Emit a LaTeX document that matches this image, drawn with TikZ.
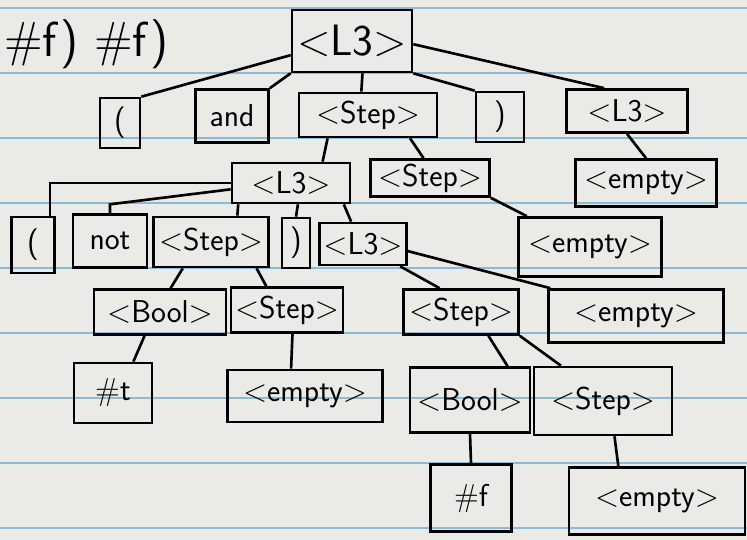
\documentclass[tikz,border=0pt]{standalone}
\usepackage{fontspec}
\usepackage{tikz}
\usetikzlibrary{calc}
\definecolor{paper}{RGB}{234, 234, 230}
\definecolor{ruling}{RGB}{140, 185, 212}

\begin{document}
\begin{tikzpicture}[x=0.02cm, y=-0.02cm, font=\sffamily\fontsize{18}{21}\selectfont,
    box/.style={draw, line width=1.5pt, inner sep=1pt},
    wh/.style 2 args={minimum width=#1*0.02cm, minimum height=#2*0.02cm},
    edge/.style={line width=1.5pt}]
  % Paper with its ruled lines
  \fill[paper] (0,0) rectangle (747,540);
  \useasboundingbox (0,0) rectangle (747,540);
  \foreach \k in {0,...,8} {
    \draw[ruling, line width=1pt] (0, {8+65*\k}) -- (747, {8+65*\k});
  }

  % Leftover of the expression
  \node[anchor=west, inner sep=1pt, font=\sffamily\fontsize{28}{32}\selectfont] (frag) at (2,44) {\#f) \#f)};

  % Level 0 and 1
  \node[box, wh={120}{62}, font=\sffamily\fontsize{25}{29}\selectfont] (r) at (352,41) {<L3>};
  \node[box, wh={40}{50}] (lp1) at (120,123) {(};
  \node[box, wh={73}{53}] (and) at (232,116) {and};
  \node[box, wh={138}{44}] (s1) at (368,115) {<Step>};
  \node[box, wh={48}{50}] (rp1) at (500,117) {)};
  \node[box, wh={121}{43}] (l3b) at (627,111) {<L3>};

  % Level 2
  \node[box, wh={118}{40}] (l3c) at (291,183) {<L3>};
  \node[box, wh={119}{37}] (s2) at (430,178) {<Step>};
  \node[box, wh={141}{47}] (e1) at (646,183) {<empty>};

  % Level 3
  \node[box, wh={43}{56}] (lp2) at (33,245) {(};
  \node[box, wh={74}{53}] (not) at (110,241) {not};
  \node[box, wh={115}{50}] (s3) at (211,242) {<Step>};
  \node[box, wh={28}{50}] (rp2) at (296,243) {)};
  \node[box, wh={87}{42}] (l3d) at (363,244) {<L3>};
  \node[box, wh={143}{59}] (e2) at (590,247) {<empty>};

  % Level 4
  \node[box, wh={132}{45}] (b1) at (160,312) {<Bool>};
  \node[box, wh={112}{45}] (s4) at (287,310) {<Step>};
  \node[box, wh={115}{45}] (s5) at (461,312) {<Step>};
  \node[box, wh={175}{53}] (e3) at (636,316) {<empty>};

  % Level 5 and 6
  \node[box, wh={78}{60}] (t) at (113,393) {\#t};
  \node[box, wh={155}{52}] (e4) at (305,396) {<empty>};
  \node[box, wh={120}{65}] (b2) at (470,400) {<Bool>};
  \node[box, wh={138}{68}] (s6) at (603,401) {<Step>};
  \node[box, wh={81}{67}] (f) at (471,498) {\#f};
  \node[box, wh={176}{67}] (e5) at (657,501) {<empty>};

  % Connectors
  \foreach \a/\b in {r.193/lp1.north east, r.south west/and.north east,
      r.-72/s1.106, r.south east/rp1.north west, r.-3/l3b.135,
      s1.210/l3c.34, s1.-29/s2.108, l3b.south/e1.north,
      l3c.202/s3.45, l3c.-72/rp2.north, l3c.-22/l3d.118,
      s2.south east/e2.154, s3.223/b1.66, s3.-30/s4.131,
      l3d.-31/s5.132, l3d.-9/e3.162, b1.237/t.57, s4.-77/e4.117,
      s5.-41/b2.42, s5.south east/s6.140, b2.south/f.north, s6.-72/e5.138} {
    \draw[edge] (\a) -- (\b);
  }
  \draw[edge] (l3c.west) -| (lp2.60);
  \draw[edge] (l3c.186) -- (not.north |- l3c.south) -- (not.north);
\end{tikzpicture}
\end{document}
